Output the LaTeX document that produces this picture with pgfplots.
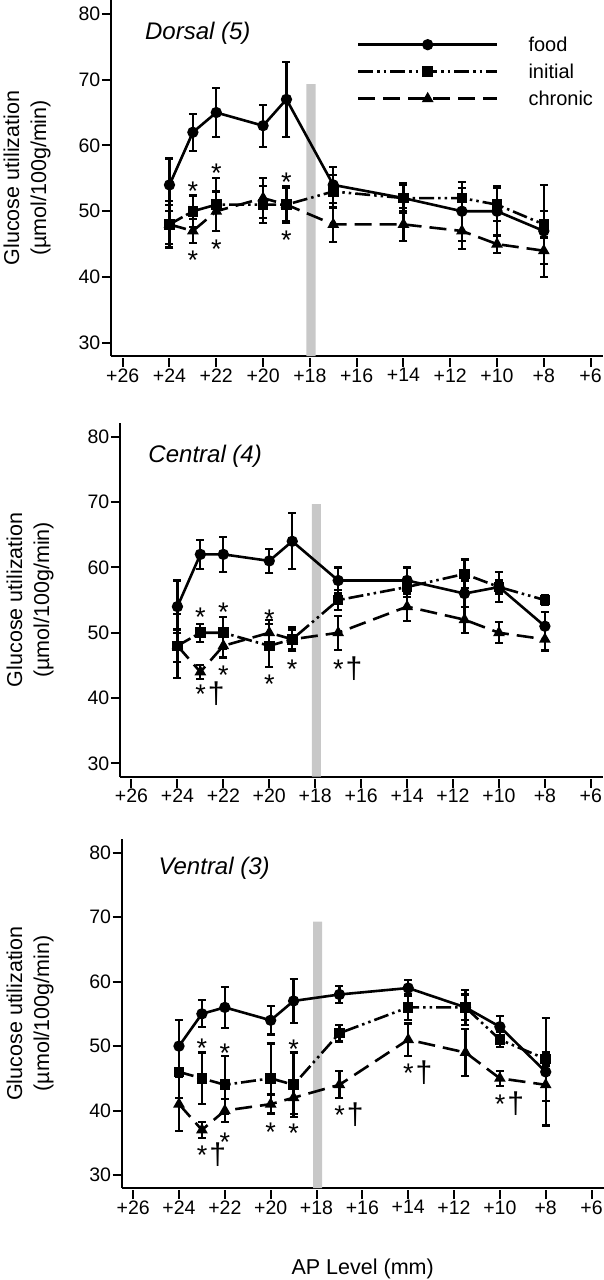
\documentclass[border=0pt]{standalone}
\usepackage{fontspec}
\setmainfont{Liberation Sans}
\usepackage{pgfplots}
\usepackage{pgfplotstable}
\pgfplotsset{compat=1.18}
\definecolor{bargray}{RGB}{200,200,200}

% columns: x, food (f, fe), initial (i, ie), chronic (c, ce)
\pgfplotstableread{
x f fe i ie c ce
24 54 4 48 3.5 48 3
23 62 2.8 50 2.4 47 1.8
22 65 3.7 51 4 50 3
20 63 3.2 51 2.8 52 3
19 67 5.7 51 2.8 51 2.5
17 54 2.7 53 2.5 48 2.7
14 52 2.3 52 2 48 2.5
11.5 50 4.5 52 1.5 47 2.7
10 50 3.8 51 2.5 45 1.3
8 47 7 48 2 44 2
}\dorsal
\pgfplotstableread{
x f fe i ie c ce
24 54 4 48 2.5 48 4.9
23 62 2.2 50 1.4 44 1.1
22 62 2.7 50 2.4 48 1.8
20 61 1.8 48 3.3 50 2
19 64 4.3 49 1.5 49 1.8
17 58 2 55 1.5 50 2.6
14 58 2 57 1.5 54 2.2
11.5 56 2 59 2.2 52 2
10 57 2.3 57 1 50 1.6
8 51 2.2 55 0.8 49 1.7
}\central
\pgfplotstableread{
x f fe i ie c ce
24 50 4.1 46 4 41 4.2
23 55 2.1 45 4 37 1.2
22 56 3.2 44 4.5 40 1.8
20 54 2.2 45 5.4 41 1.5
19 57 3.4 44 5 42 2.5
17 58 1.3 52 1.3 44 2.1
14 59 1.2 56 2 51 2.5
11.5 56 2.7 56 2 49 3.6
10 53 1.7 51 1.2 45 1.2
8 46 8.3 48 1 44 2.5
}\ventral

\newcommand{\sd}{*\kern2pt{\fontsize{30}{30}\selectfont †}}
\tikzset{
  star/.style={font=\fontsize{27}{27}\selectfont, anchor=base, inner sep=0pt, yshift=-15.5pt},
  stardag/.style={font=\fontsize{27}{27}\selectfont, anchor=base west, inner sep=0pt, yshift=-15.5pt, xshift=-5.2pt},
  ptitle/.style={font=\fontsize{24}{28}\selectfont\itshape, anchor=west, inner sep=0pt},
}
\pgfplotsset{
  panel/.style={
    scale only axis,
    x dir=reverse,
    xmin=5.47, xmax=26.5,
    ymin=28, ymax=82.1,
    axis x line*=bottom, axis y line*=left,
    axis line style={line width=2pt, -},
    xtick={6,8,...,26},
    xticklabels={+6,+8,+10,+12,+14,+16,+18,+20,+22,+24,+26},
    ytick={30,40,...,80},
    tick align=outside,
    major tick length=9pt,
    tick style={line width=2pt, black},
    xtick style={yshift=-2pt},
    tick label style={font=\fontsize{19.5}{22}\selectfont},
    yticklabel style={inner xsep=1.5pt},
    /pgf/number format/assume math mode=true,
    ylabel={Glucose utilization\\(µmol/100g/min)},
    ylabel style={anchor=center, align=center, font=\fontsize{21.5}{27}\selectfont},
    clip=false,
    error bars/y dir=both,
    error bars/y explicit,
    error bars/error mark options={rotate=90, mark size=4pt, line width=2.2pt, solid},
    error bars/error bar style={line width=2.2pt, solid},
  },
  food/.style={black, line width=2.6pt, mark=*, mark size=4.3pt, mark options={solid}},
  initial/.style={black, line width=2.6pt, dash pattern=on 15pt off 4pt on 2.5pt off 4pt on 2.5pt off 4pt, mark=square*, mark size=4pt, mark options={solid}},
  chronic/.style={black, line width=2.6pt, dash pattern=on 17pt off 8pt, mark=triangle*, mark size=4.2pt, mark options={solid}},
  grayband/.style={fill=bargray, draw=none, forget plot},
}

\begin{document}
\begin{tikzpicture}
% ---------------- Dorsal ----------------
\begin{axis}[panel, at={(111pt,-356pt)}, anchor=south west, width=492pt, height=356pt,
  ylabel style={at={(axis description cs:-0.1707,0.5)}},
  legend style={draw=none, fill=none, at={(rel axis cs:0.4994,0.8975)}, anchor=north west,
    font=\fontsize{20}{24}\selectfont, row sep=11pt, column sep=30pt, inner sep=0pt,
    nodes={inner sep=0pt}},
  legend cell align=left,
  legend image code/.code={\draw[mark repeat=2,mark phase=2,#1] plot coordinates {(0pt,0pt) (69.5pt,0pt) (139pt,0pt)};},
]
\addplot[grayband] coordinates {(18.15,28) (18.15,69.3) (17.75,69.3) (17.75,28)} \closedcycle;
\addplot[food] table[x=x, y=f, y error=fe] {\dorsal};
\addlegendentry{food}
\addplot[initial] table[x=x, y=i, y error=ie] {\dorsal};
\addlegendentry{initial}
\addplot[chronic] table[x=x, y=c, y error=ce] {\dorsal};
\addlegendentry{chronic}
\node[ptitle] at (rel axis cs:0.069,0.907) {Dorsal (5)};
\node[star] at (axis cs:23,54) {*};
\node[star] at (axis cs:23,43.5) {*};
\node[star] at (axis cs:22,56.7) {*};
\node[star] at (axis cs:22,45.2) {*};
\node[star] at (axis cs:19,55.3) {*};
\node[star] at (axis cs:19,46.5) {*};
\end{axis}
% ---------------- Central ----------------
\begin{axis}[panel, at={(120pt,-776.5pt)}, anchor=south west, width=483pt, height=353.5pt,
  ylabel style={at={(axis description cs:-0.186,0.5)}},
]
\addplot[grayband] coordinates {(18.15,28) (18.15,69.7) (17.75,69.7) (17.75,28)} \closedcycle;
\addplot[food] table[x=x, y=f, y error=fe] {\central};
\addplot[initial] table[x=x, y=i, y error=ie] {\central};
\addplot[chronic] table[x=x, y=c, y error=ce] {\central};
\node[ptitle] at (rel axis cs:0.0586,0.9047) {Central (4)};
\node[star] at (axis cs:23,53.4) {*};
\node[stardag] at (axis cs:23,41.6) {\sd};
\node[star] at (axis cs:22,54.05) {*};
\node[star] at (axis cs:22,44.4) {*};
\node[star] at (axis cs:20,53.1) {*};
\node[star] at (axis cs:20,43) {*};
\node[star] at (axis cs:19,45.4) {*};
\node[stardag] at (axis cs:17,45.4) {\sd};
\end{axis}
% ---------------- Ventral ----------------
\begin{axis}[panel, at={(121.7pt,-1188pt)}, anchor=south west, width=482pt, height=349pt,
  ylabel style={at={(axis description cs:-0.190,0.5)}},
  xlabel={AP Level (mm)},
  xlabel style={at={(axis description cs:0.5,-0.249)}, anchor=base, font=\fontsize{21.5}{25}\selectfont},
]
\addplot[grayband] coordinates {(18.15,28) (18.15,69.3) (17.75,69.3) (17.75,28)} \closedcycle;
\addplot[food] table[x=x, y=f, y error=fe] {\ventral};
\addplot[initial] table[x=x, y=i, y error=ie] {\ventral};
\addplot[chronic] table[x=x, y=c, y error=ce] {\ventral};
\node[ptitle] at (rel axis cs:0.076,0.917) {Ventral (3)};
\node[star] at (axis cs:23,50.7) {*};
\node[star] at (axis cs:22,49.9) {*};
\node[star] at (axis cs:19,50.5) {*};
\node[star] at (axis cs:22,36.1) {*};
\node[star] at (axis cs:20,37.6) {*};
\node[star] at (axis cs:19,37.4) {*};
\node[stardag] at (axis cs:23,34) {\sd};
\node[stardag] at (axis cs:17,40.2) {\sd};
\node[stardag] at (axis cs:14,46.7) {\sd};
\node[stardag] at (axis cs:10,42) {\sd};
\end{axis}
\pgfresetboundingbox
\path[use as bounding box] (0pt,0pt) rectangle (604pt,-1280pt);
\end{tikzpicture}
\end{document}
